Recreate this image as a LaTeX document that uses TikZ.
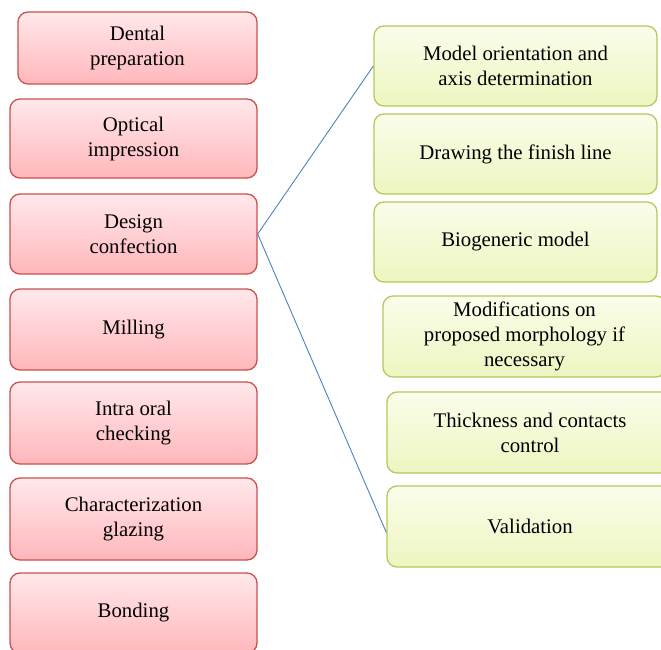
\documentclass[tikz,border=0pt]{standalone}
\usepackage{fontspec}
\setmainfont{Liberation Serif}
\definecolor{pinkborder}{HTML}{C9504D}
\definecolor{pinktop}{HTML}{FFE8EB}
\definecolor{pinkbot}{HTML}{FFB7BB}
\definecolor{greenborder}{HTML}{B2C95C}
\definecolor{greentop}{HTML}{FBFDEB}
\definecolor{greenbot}{HTML}{EDF5BF}
\definecolor{linkblue}{HTML}{4F81BD}
\tikzset{
  stepbase/.style={rectangle, rounded corners=10pt, line width=1.3pt, align=center,
    font=\fontsize{20.8}{25}\selectfont, inner sep=0pt},
  pinkbox/.style={stepbase, draw=pinkborder, top color=pinktop, bottom color=pinkbot},
  greenbox/.style={stepbase, draw=greenborder, top color=greentop, bottom color=greenbot},
  link/.style={draw=linkblue, line width=0.9pt}
}
\begin{document}
\begin{tikzpicture}[x=1pt,y=-1pt]
\useasboundingbox (0,0) rectangle (661,650);
\clip (0,0) rectangle (661,650);
% left column
\node[pinkbox, minimum width=239pt, minimum height=72pt] (dental) at (137.5,48) {Dental\\preparation};
\node[pinkbox, minimum width=247pt, minimum height=79pt] (optical) at (133.5,138.5) {Optical\\impression};
\node[pinkbox, minimum width=247pt, minimum height=80pt] (design) at (133.5,234) {Design\\confection};
\node[pinkbox, minimum width=247pt, minimum height=81pt] (milling) at (133.5,329.5) {Milling};
\node[pinkbox, minimum width=247pt, minimum height=82pt] (intra) at (133.5,423) {Intra oral\\checking};
\node[pinkbox, minimum width=247pt, minimum height=82pt] (charac) at (133.5,519) {Characterization\\glazing};
\node[pinkbox, minimum width=247pt, minimum height=80pt] (bonding) at (133.5,613) {Bonding};
% right column
\node[greenbox, minimum width=283pt, minimum height=80pt] (model) at (515.5,66) {Model orientation and\\axis determination};
\node[greenbox, minimum width=283pt, minimum height=80pt] (finish) at (515.5,154) {Drawing the finish line};
\node[greenbox, minimum width=283pt, minimum height=80pt] (bio) at (515.5,242) {Biogeneric model};
\node[greenbox, minimum width=283pt, minimum height=81pt] (modif) at (524.5,336.5) {Modifications on\\proposed morphology if\\necessary};
\node[greenbox, minimum width=286pt, minimum height=81pt] (thick) at (530,432.5) {Thickness and contacts\\control};
\node[greenbox, minimum width=286pt, minimum height=81pt] (valid) at (530,526.5) {Validation};
% connectors
\coordinate (validin) at ([yshift=-6pt]valid.west);
\draw[link] (model.west) -- (design.east) -- (validin);
\end{tikzpicture}
\end{document}
